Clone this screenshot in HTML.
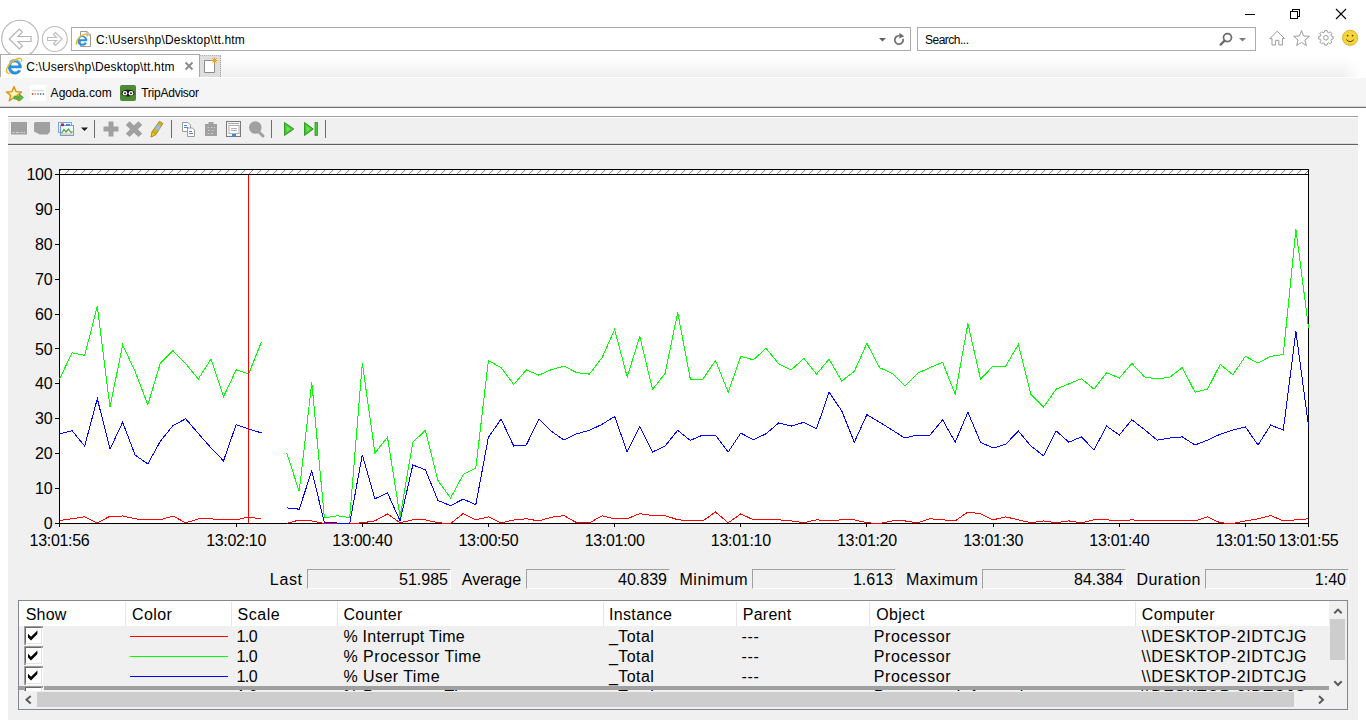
<!DOCTYPE html>
<html>
<head>
<meta charset="utf-8">
<title>C:\Users\hp\Desktop\tt.htm</title>
<style>
html,body{margin:0;padding:0;background:#fff;}
body{width:1366px;height:727px;position:relative;overflow:hidden;font-family:"Liberation Sans",sans-serif;color:#000;}
.abs{position:absolute;}
.ui{position:absolute;font-family:"Liberation Sans",sans-serif;font-size:12px;line-height:14px;color:#000;white-space:nowrap;}
.box{position:absolute;border:1px solid #ababab;background:#fff;box-sizing:border-box;}
.lbl{position:absolute;font-size:16px;line-height:19px;white-space:nowrap;color:#000;}
.xl{width:80px;text-align:center;letter-spacing:-0.3px;}
.yl{letter-spacing:-0.35px;}
.val{position:absolute;box-sizing:border-box;top:569px;height:20px;width:144px;border-top:1px solid #a0a0a0;border-left:1px solid #a0a0a0;border-bottom:1px solid #fff;border-right:1px solid #fff;font-size:16px;line-height:20px;text-align:right;padding-right:2px;}
.hd{position:absolute;top:605px;font-size:16px;line-height:19px;white-space:nowrap;}
.sep{position:absolute;top:602px;width:1px;height:24px;background:#e5e5e5;}
.row{position:absolute;left:19px;width:1310px;height:20px;font-size:16px;line-height:20px;white-space:nowrap;}
.row span{position:absolute;top:1px;}
.cb{position:absolute;left:5px;top:0;width:15px;height:15px;background:#fff;border-top:1px solid #696969;border-left:1px solid #696969;border-right:1px solid #e3e3e3;border-bottom:1px solid #e3e3e3;outline:1px solid transparent;box-shadow:-1px -1px 0 #a0a0a0, 1px 1px 0 #fff, 1px -1px 0 #a0a0a0, -1px 1px 0 #a0a0a0;margin:1px;}
.ln{position:absolute;left:111px;top:10px;width:98px;height:1px;}
.tsep{position:absolute;top:120px;width:1px;height:18px;background:#6d6d6d;}
#hdShow{letter-spacing:0.133px;margin-left:-0.2px;}
#hdColor{letter-spacing:0.4px;margin-left:0.0px;}
#hdScale{letter-spacing:0.55px;margin-left:-0.6px;}
#hdCounter{letter-spacing:0.334px;margin-left:-0.6px;}
#hdInstance{letter-spacing:0.343px;margin-left:-1.0px;}
#hdParent{letter-spacing:0.24px;margin-left:-0.2px;}
#hdObject{letter-spacing:0.4px;margin-left:0.2px;}
#hdComputer{letter-spacing:0.342px;margin-left:-0.2px;}
.one{letter-spacing:-0.5px;margin-left:-0.6px;}
#r1c{letter-spacing:0.266px;margin-left:0.4px;}
.r2c{letter-spacing:0.52px;margin-left:0.4px;}
#r3c{letter-spacing:0.46px;margin-left:0.4px;}
.tot{letter-spacing:0.44px;margin-left:1.0px;}
.dash{letter-spacing:0.7px;margin-left:0.4px;}
.proc{letter-spacing:0.599px;margin-left:-0.2px;}
.comp{letter-spacing:0.5px;margin-left:1.4px;}
#stLast{letter-spacing:0.667px;margin-left:-0.2px;}
#stAverage{letter-spacing:0.0px;margin-left:0.8px;}
#stMinimum{letter-spacing:0.567px;margin-left:-0.6px;}
#stMaximum{letter-spacing:0.4px;margin-left:0.0px;}
#stDuration{letter-spacing:0.514px;margin-left:0.4px;}
#addr{letter-spacing:0.192px;margin-left:0.0px;}
#tabt{letter-spacing:0.168px;margin-left:0.2px;}
#fav1{letter-spacing:0.051px;margin-left:0.6px;}
#fav2{letter-spacing:-0.24px;margin-left:1.2px;}
#srch{letter-spacing:-0.5px;margin-left:0.0px;}
</style>
</head>
<body>

<!-- ===== browser chrome ===== -->
<div id="chrome" class="abs" style="left:0;top:0;width:1366px;height:108px;background:#fff;">
  <!-- tab row gradient -->
  <div class="abs" style="left:0;top:55px;width:1366px;height:22px;background:linear-gradient(to bottom,#ffffff 0%,#fcfcfc 25%,#efefef 100%);"></div>
  <div class="abs" style="left:1340px;top:55px;width:26px;height:22px;background:linear-gradient(to right,rgba(255,255,255,0) 10%,#fff 85%);"></div>
  <div class="abs" style="left:0;top:77px;width:1366px;height:1px;background:#fff;z-index:1;"></div>
  <!-- favourites bar -->
  <div class="abs" style="left:0;top:77px;width:1366px;height:30px;background:#f5f5f5;"></div>
  <div class="abs" style="left:0;top:106px;width:1366px;height:1px;background:#d6d6d6;"></div>
  <div class="abs" style="left:0;top:107px;width:1366px;height:1px;background:#6e6e6e;"></div>

  <!-- back / forward -->
  <svg class="abs" style="left:0;top:18px;" width="72" height="37" viewBox="0 18 72 37">
    <circle cx="20" cy="38.600" r="18.300" fill="#fff" stroke="#b4b4b4" stroke-width="1.100"/>
    <path d="M9.300,39 L19.300,29 L22.400,32.100 L18,36.500 H31 V41.500 H18 L22.400,45.900 L19.300,49 Z" fill="#fff" stroke="#b4b4b4" stroke-width="1.200" stroke-linejoin="miter"/>
    <circle cx="54.800" cy="39" r="12.500" fill="#fff" stroke="#bcbcbc" stroke-width="1.100"/>
    <path d="M62,39 L55.5,32.5 L53.5,34.5 L56.5,37.5 H47.5 V40.5 H56.5 L53.5,43.5 L55.5,45.5 Z" fill="#fff" stroke="#bebebe" stroke-width="1.150"/>
  </svg>

  <!-- address box -->
  <div class="box" style="left:71px;top:27px;width:840px;height:24px;"></div>
  <!-- page icon in address box -->
  <svg class="abs" style="left:74px;top:29px;" width="20" height="20" viewBox="0 0 20 20">
    <path d="M6.500,2.500 H13 L16.500,6 V17.500 H6.500 Z" fill="#fff" stroke="#9a9a9a" stroke-width="1"/>
    <path d="M13,2.500 V6 H16.500" fill="none" stroke="#9a9a9a" stroke-width="1"/>
    <g transform="translate(1.200,4.200) scale(0.720)">
    <path d="M16.660,11.300 H6.100 A3.900,3.900 0 0 0 13.300,12.700 L16.200,13.800 A7,7 0 1 1 16.700,8.500 Z" fill="#2a8fdd"/>
    <path d="M6.100,8.500 H13.500 A3.750,3.750 0 0 0 6.100,8.500 Z" fill="#fff"/>
    <path d="M2.600,16 C-0.800,13.500 4.500,4.500 12.500,1.700 C15.500,0.700 17.300,1.800 16.300,4.800" fill="none" stroke="#f3b61f" stroke-width="1.700"/>
    </g>
  </svg>
  <div class="ui" id="addr" style="left:96px;top:33px;">C:\Users\hp\Desktop\tt.htm</div>
  <!-- address dropdown + refresh -->
  <svg class="abs" style="left:876px;top:30px;" width="34" height="18" viewBox="0 0 34 18">
    <path d="M3,8 H10 L6.5,11.5 Z" fill="#5f5f5f"/>
    <path d="M23.600,5.800 A4.200,4.200 0 1 0 27,8.800" fill="none" stroke="#6e6e6e" stroke-width="1.700"/>
    <path d="M23.400,2.700 L28.200,6.200 L23.400,8.400 Z" fill="#6e6e6e"/>
  </svg>

  <!-- search box -->
  <div class="box" style="left:917px;top:27px;width:339px;height:24px;"></div>
  <div class="ui" id="srch" style="left:925px;top:33px;">Search...</div>
  <svg class="abs" style="left:1216px;top:30px;" width="36" height="18" viewBox="0 0 36 18">
    <circle cx="11.5" cy="7.6" r="4" fill="none" stroke="#6a6a6a" stroke-width="1.7"/>
    <path d="M8.6,10.6 L4.6,14.6" stroke="#6a6a6a" stroke-width="2.2" stroke-linecap="round"/>
    <path d="M23,8 H30 L26.5,11.5 Z" fill="#7a7a7a"/>
  </svg>

  <!-- window controls -->
  <svg class="abs" style="left:1240px;top:4px;" width="120" height="20" viewBox="1240 4 120 20" shape-rendering="crispEdges">
    <path d="M1245,14.5 H1255" stroke="#000" stroke-width="1"/>
    <path d="M1290.5,11.5 H1297.5 V18.5 H1290.5 Z" fill="none" stroke="#000" stroke-width="1"/>
    <path d="M1292.5,11 V9.5 H1299.5 V16.5 H1298" fill="none" stroke="#000" stroke-width="1"/>
    <path d="M1336,9 L1346,19 M1346,9 L1336,19" stroke="#000" stroke-width="1.1" shape-rendering="auto"/>
  </svg>

  <!-- home / star / gear / smiley -->
  <svg class="abs" style="left:1266px;top:28px;" width="96" height="20" viewBox="1266 28 96 20">
    <path d="M1269.8,38.6 L1277.2,31.2 L1284.6,38.6 H1282.4 V45 H1278.8 V40.4 H1275.6 V45 H1272 V38.6 Z" fill="#fff" stroke="#9b9b9b" stroke-width="1" stroke-linejoin="round"/>
    <path d="M1301.5,30.6 L1303.6,36 L1309.4,36.3 L1304.9,40 L1306.4,45.6 L1301.5,42.4 L1296.6,45.6 L1298.1,40 L1293.6,36.3 L1299.4,36 Z" fill="#fff" stroke="#9b9b9b" stroke-width="1" stroke-linejoin="round"/>
    <g transform="translate(1325.9,37.8) scale(0.86)" fill="#fff" stroke="#9b9b9b" stroke-width="1.15" stroke-linejoin="round">
      <path d="M-1.4,-7.6 H1.4 L1.9,-5.5 L3.2,-4.9 L5,-6.1 L7,-4.1 L5.8,-2.3 L6.3,-1 L8.4,-0.5 V2.3 L6.3,2.8 L5.8,4.1 L7,5.9 L5,7.9 L3.2,6.7 L1.9,7.3 L1.4,9.4 H-1.4 L-1.9,7.3 L-3.2,6.7 L-5,7.9 L-7,5.9 L-5.8,4.1 L-6.3,2.8 L-8.4,2.3 V-0.5 L-6.3,-1 L-5.8,-2.3 L-7,-4.1 L-5,-6.1 L-3.2,-4.9 L-1.9,-5.5 Z" transform="translate(0,-0.9)"/>
      <circle cx="0" cy="0" r="2.7"/>
    </g>
    <circle cx="1350.1" cy="37.8" r="7.6" fill="#f6d43c" stroke="#d9b52e" stroke-width="1"/>
    <circle cx="1347.6" cy="35.6" r="0.9" fill="#5a4a12"/>
    <circle cx="1352.6" cy="35.6" r="0.9" fill="#5a4a12"/>
    <path d="M1346.3,39.6 Q1350.1,43.6 1353.9,39.6" fill="none" stroke="#5a4a12" stroke-width="1"/>
  </svg>

  <!-- tab -->
  <div class="abs" style="left:0;top:54px;width:1366px;height:1px;background:#fff;"></div>
  <div class="abs" style="left:0;top:54px;width:200px;height:23px;background:#fff;border:1px solid #a9a9a9;border-bottom:none;box-sizing:border-box;"></div>
  <svg class="abs" style="left:5px;top:57px;" width="18" height="18" viewBox="0 0 18 18">
    <path d="M16.660,11.300 H6.100 A3.900,3.900 0 0 0 13.300,12.700 L16.200,13.800 A7,7 0 1 1 16.700,8.500 Z" fill="#2a8fdd"/>
    <path d="M6.100,8.500 H13.500 A3.750,3.750 0 0 0 6.100,8.500 Z" fill="#fff"/>
    <path d="M4.300,5.500 A6.300,6.300 0 0 1 15.200,6" fill="none" stroke="#5ab8f0" stroke-width="1.200"/>
    <path d="M2.600,16 C-0.800,13.500 4.500,4.500 12.500,1.700 C15.500,0.700 17.300,1.800 16.300,4.800" fill="none" stroke="#f3b61f" stroke-width="1.500"/>
    <path d="M2.600,16 C3.300,16.500 4.600,16.200 5.600,15.700" fill="none" stroke="#f3b61f" stroke-width="1.200"/>
  </svg>
  <div class="ui" id="tabt" style="left:26px;top:60px;">C:\Users\hp\Desktop\tt.htm</div>
  <svg class="abs" style="left:184px;top:61px;" width="10" height="10" viewBox="0 0 10 10">
    <path d="M1.5,1.5 L8.5,8.5 M8.5,1.5 L1.5,8.5" stroke="#8a8a8a" stroke-width="1.8"/>
  </svg>
  <!-- new tab button -->
  <div class="abs" style="left:200px;top:55px;width:21px;height:22px;background:#dedede;border-right:1px dotted #a0a0a0;border-top:1px dotted #b0b0b0;box-sizing:border-box;"></div>
  <svg class="abs" style="left:202px;top:57px;" width="18" height="18" viewBox="0 0 18 18">
    <path d="M2.5,3.5 H10.5 L12.5,5.5 V15.5 H2.5 Z" fill="#fff" stroke="#8c8c8c" stroke-width="1"/>
    <path d="M12.5,0.5 V6.5 M9.5,3.5 H15.5 M10.4,1.4 L14.6,5.6 M14.6,1.4 L10.4,5.6" stroke="#f0a020" stroke-width="1"/>
  </svg>

  <!-- favourites -->
  <svg class="abs" style="left:5px;top:85px;" width="20" height="18" viewBox="0 0 20 18">
    <path d="M9,1.5 L11.1,6.6 L16.6,7 L12.4,10.5 L13.8,15.8 L9,12.8 L4.2,15.8 L5.6,10.5 L1.4,7 L6.9,6.6 Z" fill="#fbd970" stroke="#d9921c" stroke-width="1.300" stroke-linejoin="round"/>
    <path d="M9,4.500 L10.200,7.600 L13.400,7.900 L11,9.900 L11.800,13 L9,11.200 L6.200,13 L7,9.900 L4.600,7.900 L7.800,7.600 Z" fill="#fff3c0"/>
    <path d="M9,11 H14.5 V9 L18.5,12.5 L14.5,16 V14 H9 Z" fill="#58b947" stroke="#3e9a33" stroke-width="0.6"/>
  </svg>
  <div class="abs" style="left:30px;top:85px;width:16px;height:16px;background:#fff;"></div>
  <svg class="abs" style="left:30px;top:85px;" width="16" height="16" viewBox="0 0 16 16">
    <rect x="2" y="5.3" width="12" height="0.9" fill="#c8c8c8"/>
    <circle cx="2.6" cy="9" r="0.9" fill="#e0463a"/><circle cx="5.3" cy="9" r="0.9" fill="#f2a23a"/><circle cx="8" cy="9" r="0.9" fill="#58b058"/><circle cx="10.7" cy="9" r="0.9" fill="#9a5fb0"/><circle cx="13.4" cy="9" r="0.9" fill="#4a90d8"/>
  </svg>
  <div class="ui" id="fav1" style="left:50px;top:86px;">Agoda.com</div>
  <svg class="abs" style="left:120px;top:85px;" width="16" height="16" viewBox="0 0 16 16">
    <rect x="0" y="0" width="16" height="16" rx="2" fill="#4c8a36"/>
    <ellipse cx="8" cy="8.2" rx="6.6" ry="3.4" fill="#1c1c1c"/>
    <circle cx="5" cy="8.3" r="2.3" fill="#fff"/><circle cx="11" cy="8.3" r="2.3" fill="#fff"/>
    <circle cx="5" cy="8.3" r="1" fill="#1c1c1c"/><circle cx="11" cy="8.3" r="1" fill="#1c1c1c"/>
  </svg>
  <div class="ui" id="fav2" style="left:140px;top:86px;">TripAdvisor</div>
</div>

<!-- ===== page: System Monitor control ===== -->
<div id="ctl" class="abs" style="left:8px;top:116px;width:1350px;height:604px;background:#f0f0f0;"></div>
<div class="abs" style="left:8px;top:116px;width:1350px;height:1px;background:#a0a0a0;"></div>
<div class="abs" style="left:8px;top:117px;width:1350px;height:1px;background:#fff;"></div>
<div class="abs" style="left:8px;top:143px;width:1350px;height:1px;background:#dcdcdc;"></div>
<div class="abs" style="left:8px;top:144px;width:1350px;height:1px;background:#5e5e5e;"></div>
<div class="abs" style="left:8px;top:145px;width:1350px;height:1px;background:#f8f8f8;"></div>

<!-- toolbar icons -->
<svg class="abs" style="left:8px;top:118px;" width="330" height="24" viewBox="8 118 330 24">
  <!-- 1 new counter set (disabled) -->
  <rect x="11" y="122" width="16" height="12.5" fill="#a0a0a0"/>
  <path d="M12.5,132.5 h2 m1.5,0 h3 m1.5,0 h2 m1,0 h1.5" stroke="#d8d8d8" stroke-width="1"/>
  <!-- 2 clear display (disabled) -->
  <path d="M35.5,122 H50 V132 L47.5,134.5 H40 L34,131.5 V123 Z" fill="#a0a0a0"/>
  <!-- 3 view graph -->
  <rect x="58.5" y="122.5" width="13" height="10" fill="#eaf2fb" stroke="#7aa7e0" stroke-width="1"/>
  <rect x="60.5" y="125.500" width="13" height="10" fill="#f4f8fd" stroke="#6b9fe0" stroke-width="1"/>
  <rect x="61" y="123.500" width="3" height="2.6" fill="#d02020"/>
  <rect x="66" y="124" width="4" height="2" fill="#4a8ad8"/>
  <path d="M61.500,133.500 L64,129.500 L66,132 L68.500,129 L71,132.500 L72.500,131.500" fill="none" stroke="#4aa040" stroke-width="1.2"/>
  <path d="M61.500,134 L72.500,134" stroke="#e0a040" stroke-width="0.8"/>
  <path d="M81,127.500 H88 L84.500,131 Z" fill="#1a1a1a"/>
  <!-- plus -->
  <path d="M108.500,121.500 H113.500 V126.500 H118.500 V131.500 H113.500 V136.500 H108.500 V131.500 H103.500 V126.500 H108.500 Z" fill="#a0a0a0"/>
  <!-- X -->
  <path d="M129.500,121.300 L134,125.500 L138.500,121.300 L142.200,125 L137.800,129.200 L142.200,133.400 L138.500,137 L134,132.800 L129.500,137 L125.800,133.400 L130.200,129.200 L125.800,125 Z" fill="#a0a0a0"/>
  <!-- pencil / highlighter -->
  <path d="M159.500,121.300 L162.800,123.500 L156,134.500 L151,137 L152.200,131.500 Z" fill="#d8b020" stroke="#8a7a30" stroke-width="0.8"/>
  <path d="M157.600,124.500 L160.800,126.600 L158.300,130.600 L155.200,128.500 Z" fill="#8fc0e8"/>
  <path d="M152.200,131.500 L156,134.500 L151,137 Z" fill="#f0d000" stroke="#a08010" stroke-width="0.6"/>
  <!-- copy -->
  <path d="M182.500,122.500 H188 L190.500,125 V131.500 H182.500 Z" fill="#fff" stroke="#9a9a9a" stroke-width="1"/>
  <path d="M187.500,128 H192.500 L194.500,130 V136.500 H187.500 Z" fill="#fff" stroke="#9a9a9a" stroke-width="1"/>
  <path d="M184,125.500 h3 M184,127.500 h4 M189,131.500 h3 M189,133.500 h4" stroke="#4a8ad8" stroke-width="1"/>
  <!-- paste (disabled) -->
  <path d="M205,124 H208.500 V122 H213.500 V124 H217 V136 H205 Z" fill="#a0a0a0"/>
  <path d="M207.500,127.500 h1.500 m2,0 h1.500 m1.500,0 h1 M208,130.500 h1.500 m2.500,0 h1.500 M207.500,133.500 h1.500 m2,0 h2" stroke="#d0d0d0" stroke-width="1"/>
  <!-- properties -->
  <rect x="226.500" y="121.500" width="14" height="15" fill="#f4f4f4" stroke="#7a7a7a" stroke-width="1"/>
  <rect x="229" y="125.500" width="10" height="8" fill="#fff" stroke="#a0a0a0" stroke-width="0.8"/>
  <path d="M228,123.500 h11 M231,128.500 h6 M231,130.500 h6" stroke="#9a9a9a" stroke-width="0.8"/>
  <rect x="232" y="134" width="4" height="2.500" fill="#3a8ae0"/>
  <!-- zoom (disabled) -->
  <circle cx="255.300" cy="127.500" r="6.300" fill="#a0a0a0"/>
  <path d="M258.500,131.500 L263,136" stroke="#a0a0a0" stroke-width="3" stroke-linecap="round"/>
  <!-- play -->
  <path d="M284.500,122.500 L293.800,129 L284.500,135.500 Z" fill="#46c832" stroke="#2f9a24" stroke-width="1" stroke-linejoin="round"/>
  <path d="M286.500,126 L290.500,129 L286.500,132 Z" fill="#6ee05a"/>
  <!-- step -->
  <path d="M304.500,122.500 L313.300,129 L304.500,135.500 Z" fill="#46c832" stroke="#2f9a24" stroke-width="1" stroke-linejoin="round"/>
  <path d="M306.500,126 L310.300,129 L306.500,132 Z" fill="#6ee05a"/>
  <rect x="315" y="122.500" width="2.500" height="13" fill="#46c832" stroke="#2f9a24" stroke-width="0.8"/>
</svg>
<div class="tsep" style="left:94px;"></div>
<div class="tsep" style="left:171px;"></div>
<div class="tsep" style="left:271px;"></div>
<div class="tsep" style="left:325px;"></div>

<!-- chart -->
<svg class="abs" style="left:0;top:0;" width="1366" height="727" viewBox="0 0 1366 727" shape-rendering="crispEdges">
<defs><pattern id="hatch" x="59" y="170" width="8" height="8" patternUnits="userSpaceOnUse"><path d="M-1,3 L3,-1 M1,9 L9,1" stroke="#7a7a7a" stroke-width="1" fill="none" shape-rendering="auto"/></pattern></defs>
<rect x="59" y="169" width="1250" height="355" fill="#fff"/>
<rect x="60" y="170" width="1248" height="4" fill="url(#hatch)"/>
<path d="M59.5,169 V524 M59,169.5 H1309 M1308.5,169 V524 M59,174.5 H1309 M59,523.5 H1309" stroke="#000" stroke-width="1" fill="none"/>
<path d="M55,523.5 H59" stroke="#000" stroke-width="1"/>
<path d="M55,488.5 H59" stroke="#000" stroke-width="1"/>
<path d="M55,453.5 H59" stroke="#000" stroke-width="1"/>
<path d="M55,418.5 H59" stroke="#000" stroke-width="1"/>
<path d="M55,383.5 H59" stroke="#000" stroke-width="1"/>
<path d="M55,348.5 H59" stroke="#000" stroke-width="1"/>
<path d="M55,314.5 H59" stroke="#000" stroke-width="1"/>
<path d="M55,279.5 H59" stroke="#000" stroke-width="1"/>
<path d="M55,244.5 H59" stroke="#000" stroke-width="1"/>
<path d="M55,209.5 H59" stroke="#000" stroke-width="1"/>
<path d="M55,174.5 H59" stroke="#000" stroke-width="1"/>
<path d="M59.5,524 V527" stroke="#000" stroke-width="1"/>
<path d="M236.5,524 V527" stroke="#000" stroke-width="1"/>
<path d="M362.5,524 V527" stroke="#000" stroke-width="1"/>
<path d="M488.5,524 V527" stroke="#000" stroke-width="1"/>
<path d="M614.5,524 V527" stroke="#000" stroke-width="1"/>
<path d="M740.5,524 V527" stroke="#000" stroke-width="1"/>
<path d="M866.5,524 V527" stroke="#000" stroke-width="1"/>
<path d="M993.5,524 V527" stroke="#000" stroke-width="1"/>
<path d="M1119.5,524 V527" stroke="#000" stroke-width="1"/>
<path d="M1245.5,524 V527" stroke="#000" stroke-width="1"/>
<path d="M1308.5,524 V527" stroke="#000" stroke-width="1"/>
<polyline points="59.5,520.4 72.1,518.8 84.7,516.7 97.3,523.0 110.0,516.2 122.6,516.0 135.2,518.8 147.8,520.0 160.4,519.8 173.0,516.0 185.7,522.8 198.3,519.0 210.9,518.8 223.5,520.0 236.1,519.8 248.7,516.9 261.4,519.0" fill="none" stroke="#ff0000" stroke-width="1"/>
<polyline points="286.6,523.5 299.2,520.0 311.8,520.9 324.4,523.5 337.1,523.5 349.7,523.5 362.3,522.8 374.9,520.9 387.5,513.9 400.1,522.8 412.8,519.8 425.4,519.8 438.0,522.8 450.6,523.5 463.2,513.6 475.8,519.8 488.4,516.9 501.1,522.8 513.7,520.0 526.3,518.8 538.9,520.9 551.5,517.2 564.1,515.6 576.8,522.8 589.4,522.8 602.0,515.8 614.6,518.8 627.2,518.8 639.8,513.6 652.5,515.6 665.1,515.6 677.7,519.7 690.3,520.9 702.9,520.9 715.5,512.0 728.2,522.8 740.8,513.9 753.4,519.8 766.0,519.8 778.6,519.8 791.2,520.9 803.9,522.8 816.5,519.8 829.1,520.9 841.7,519.8 854.3,519.8 866.9,522.8 879.6,523.5 892.2,520.9 904.8,520.9 917.4,522.8 930.0,518.8 942.6,519.8 955.2,520.9 967.9,512.0 980.5,513.9 993.1,519.8 1005.7,516.9 1018.3,519.8 1030.9,522.8 1043.6,520.9 1056.2,522.8 1068.8,520.9 1081.4,522.8 1094.0,519.8 1106.6,519.8 1119.3,520.9 1131.9,519.8 1144.5,520.9 1157.1,520.9 1169.7,520.9 1182.3,520.9 1195.0,520.9 1207.6,516.9 1220.2,522.8 1232.8,523.5 1245.4,520.9 1258.0,518.8 1270.7,515.6 1283.3,520.9 1295.9,519.8 1308.5,518.8" fill="none" stroke="#ff0000" stroke-width="1"/>
<polyline points="59.5,379.0 72.1,352.8 84.7,355.3 97.3,306.4 110.0,407.3 122.6,344.8 135.2,371.7 147.8,404.8 160.4,363.0 173.0,350.7 185.7,363.7 198.3,379.0 210.9,359.1 223.5,396.8 236.1,369.9 248.7,373.8 261.4,342.1" fill="none" stroke="#00ff00" stroke-width="1"/>
<polyline points="286.6,452.7 299.2,491.4 311.8,382.5 324.4,517.9 337.1,515.8 349.7,517.6 362.3,363.0 374.9,453.0 387.5,437.3 400.1,516.9 412.8,442.2 425.4,430.3 438.0,480.6 450.6,498.0 463.2,474.6 475.8,468.0 488.4,360.5 501.1,367.7 513.7,384.6 526.3,369.9 538.9,375.2 551.5,369.6 564.1,366.1 576.8,372.7 589.4,374.1 602.0,357.7 614.6,329.5 627.2,376.9 639.8,336.4 652.5,389.5 665.1,373.4 677.7,312.4 690.3,379.0 702.9,379.0 715.5,360.5 728.2,392.3 740.8,356.3 753.4,359.8 766.0,348.3 778.6,363.7 791.2,369.9 803.9,358.4 816.5,374.1 829.1,359.1 841.7,381.1 854.3,371.3 866.9,343.4 879.6,367.7 892.2,373.4 904.8,386.0 917.4,373.4 930.0,367.5 942.6,362.3 955.2,394.4 967.9,323.5 980.5,379.0 993.1,366.1 1005.7,366.1 1018.3,344.5 1030.9,394.4 1043.6,406.9 1056.2,389.1 1068.8,383.9 1081.4,378.7 1094.0,389.1 1106.6,372.7 1119.3,378.0 1131.9,363.5 1144.5,376.9 1157.1,379.0 1169.7,377.3 1182.3,367.5 1195.0,392.3 1207.6,389.1 1220.2,364.4 1232.8,374.8 1245.4,356.3 1258.0,363.0 1270.7,356.3 1283.3,354.6 1295.9,229.0 1308.5,327.7" fill="none" stroke="#00ff00" stroke-width="1"/>
<polyline points="59.5,434.0 72.1,430.8 84.7,446.0 97.3,398.7 110.0,449.2 122.6,422.3 135.2,455.1 147.8,464.0 160.4,441.1 173.0,425.6 185.7,418.8 198.3,433.5 210.9,447.8 223.5,460.9 236.1,424.7 248.7,428.9 261.4,432.9" fill="none" stroke="#0000ff" stroke-width="1"/>
<polyline points="286.6,507.8 299.2,509.2 311.8,470.8 324.4,522.8 337.1,523.0 349.7,523.5 362.3,454.7 374.9,498.7 387.5,493.0 400.1,520.9 412.8,465.0 425.4,469.8 438.0,500.5 450.6,505.7 463.2,499.1 475.8,504.7 488.4,437.3 501.1,419.1 513.7,446.0 526.3,445.0 538.9,419.1 551.5,431.4 564.1,440.1 576.8,433.8 589.4,430.3 602.0,424.4 614.6,416.4 627.2,452.0 639.8,426.5 652.5,452.0 665.1,446.0 677.7,430.3 690.3,440.4 702.9,435.0 715.5,435.0 728.2,452.0 740.8,433.1 753.4,439.7 766.0,433.8 778.6,423.0 791.2,426.1 803.9,422.3 816.5,428.7 829.1,392.3 841.7,410.8 854.3,442.2 866.9,414.6 879.6,422.3 892.2,430.0 904.8,438.0 917.4,435.0 930.0,435.0 942.6,419.8 955.2,442.2 967.9,412.2 980.5,442.2 993.1,448.1 1005.7,444.3 1018.3,431.0 1030.9,446.0 1043.6,455.8 1056.2,431.0 1068.8,442.2 1081.4,436.9 1094.0,449.9 1106.6,426.1 1119.3,435.0 1131.9,419.8 1144.5,429.6 1157.1,440.1 1169.7,438.0 1182.3,436.9 1195.0,445.0 1207.6,440.1 1220.2,434.2 1232.8,430.0 1245.4,426.8 1258.0,445.0 1270.7,425.1 1283.3,430.0 1295.9,331.5 1308.5,425.8" fill="none" stroke="#0000ff" stroke-width="1"/>
<path d="M248.5,175 V523" stroke="#ff0000" stroke-width="1"/>
</svg>
<div class="lbl yl" style="right:1313.8px;top:514.0px;">0</div>
<div class="lbl yl" style="right:1313.8px;top:479.1px;">10</div>
<div class="lbl yl" style="right:1313.8px;top:444.2px;">20</div>
<div class="lbl yl" style="right:1313.8px;top:409.3px;">30</div>
<div class="lbl yl" style="right:1313.8px;top:374.4px;">40</div>
<div class="lbl yl" style="right:1313.8px;top:339.5px;">50</div>
<div class="lbl yl" style="right:1313.8px;top:304.6px;">60</div>
<div class="lbl yl" style="right:1313.8px;top:269.7px;">70</div>
<div class="lbl yl" style="right:1313.8px;top:234.8px;">80</div>
<div class="lbl yl" style="right:1313.8px;top:199.9px;">90</div>
<div class="lbl yl" style="right:1313.8px;top:165.0px;">100</div>
<div class="lbl xl" style="left:19.5px;top:531px;">13:01:56</div>
<div class="lbl xl" style="left:196.1px;top:531px;">13:02:10</div>
<div class="lbl xl" style="left:322.3px;top:531px;">13:00:40</div>
<div class="lbl xl" style="left:448.4px;top:531px;">13:00:50</div>
<div class="lbl xl" style="left:574.6px;top:531px;">13:01:00</div>
<div class="lbl xl" style="left:700.8px;top:531px;">13:01:10</div>
<div class="lbl xl" style="left:826.9px;top:531px;">13:01:20</div>
<div class="lbl xl" style="left:953.1px;top:531px;">13:01:30</div>
<div class="lbl xl" style="left:1079.3px;top:531px;">13:01:40</div>
<div class="lbl xl" style="left:1205.4px;top:531px;">13:01:50</div>
<div class="lbl xl" style="left:1268.5px;top:531px;">13:01:55</div>

<!-- stats row -->
<div class="lbl" style="left:270px;top:570px;" id="stLast">Last</div>
<div class="val" style="left:307px;">51.985</div>
<div class="lbl" style="left:461px;top:570px;" id="stAverage">Average</div>
<div class="val" style="left:526px;">40.839</div>
<div class="lbl" style="left:680px;top:570px;" id="stMinimum">Minimum</div>
<div class="val" style="left:752px;">1.613</div>
<div class="lbl" style="left:906px;top:570px;" id="stMaximum">Maximum</div>
<div class="val" style="left:982px;">84.384</div>
<div class="lbl" style="left:1136px;top:570px;" id="stDuration">Duration</div>
<div class="val" style="left:1205px;">1:40</div>

<!-- legend list -->
<div class="abs" style="left:18px;top:600px;width:1330px;height:110px;border:1px solid #828790;box-sizing:border-box;background:#f0f0f0;"></div>
<div class="abs" style="left:19px;top:601px;width:1310px;height:25px;background:#fff;"></div>
<div class="hd" style="left:26px;" id="hdShow">Show</div>
<div class="hd" style="left:132px;" id="hdColor">Color</div>
<div class="hd" style="left:238px;" id="hdScale">Scale</div>
<div class="hd" style="left:344px;" id="hdCounter">Counter</div>
<div class="hd" style="left:610px;" id="hdInstance">Instance</div>
<div class="hd" style="left:743px;" id="hdParent">Parent</div>
<div class="hd" style="left:876px;" id="hdObject">Object</div>
<div class="hd" style="left:1142px;" id="hdComputer">Computer</div>
<div class="sep" style="left:125px;"></div>
<div class="sep" style="left:231px;"></div>
<div class="sep" style="left:337px;"></div>
<div class="sep" style="left:603px;"></div>
<div class="sep" style="left:736px;"></div>
<div class="sep" style="left:869px;"></div>
<div class="sep" style="left:1135px;"></div>

<div class="row" style="top:626px;">
  <div class="cb"><svg width="15" height="15" viewBox="0 0 15 15" style="display:block"><path d="M2,5.800 L5,8.800 L11.400,2.400 V6 L5,12.400 L2,9.400 Z" fill="#000"/></svg></div>
  <div class="ln" style="background:#ff0000;"></div>
  <span class="one" style="left:218px;">1.0</span><span id="r1c" style="left:324px;">% Interrupt Time</span><span class="tot" style="left:589px;">_Total</span><span class="dash" style="left:722px;">---</span><span class="proc" style="left:855px;">Processor</span><span class="comp" style="left:1121px;">\\DESKTOP-2IDTCJG</span>
</div>
<div class="row" style="top:646px;">
  <div class="cb"><svg width="15" height="15" viewBox="0 0 15 15" style="display:block"><path d="M2,5.800 L5,8.800 L11.400,2.400 V6 L5,12.400 L2,9.400 Z" fill="#000"/></svg></div>
  <div class="ln" style="background:#00ff00;"></div>
  <span class="one" style="left:218px;">1.0</span><span class="r2c" style="left:324px;">% Processor Time</span><span class="tot" style="left:589px;">_Total</span><span class="dash" style="left:722px;">---</span><span class="proc" style="left:855px;">Processor</span><span class="comp" style="left:1121px;">\\DESKTOP-2IDTCJG</span>
</div>
<div class="row" style="top:666px;">
  <div class="cb"><svg width="15" height="15" viewBox="0 0 15 15" style="display:block"><path d="M2,5.800 L5,8.800 L11.400,2.400 V6 L5,12.400 L2,9.400 Z" fill="#000"/></svg></div>
  <div class="ln" style="background:#0000ff;"></div>
  <span class="one" style="left:218px;">1.0</span><span id="r3c" style="left:324px;">% User Time</span><span class="tot" style="left:589px;">_Total</span><span class="dash" style="left:722px;">---</span><span class="proc" style="left:855px;">Processor</span><span class="comp" style="left:1121px;">\\DESKTOP-2IDTCJG</span>
</div>
<!-- partially visible 4th (selected) row -->
<div class="abs" style="left:19px;top:686px;width:1310px;height:5px;overflow:hidden;background:#f0f0f0;">
  <div class="row" style="left:0;top:0;">
    <div class="cb"></div>
    <span class="one" style="left:218px;">1.0</span><span class="r2c" style="left:324px;">% Processor Time</span><span class="tot" style="left:589px;">_Total</span><span class="dash" style="left:722px;">---</span><span class="proc" style="left:855px;">Processor Information</span><span class="comp" style="left:1121px;">\\DESKTOP-2IDTCJG</span>
  </div>
</div>
<div class="abs" style="left:19px;top:686px;width:5px;height:4px;background:#a0a0a0;"></div>
<div class="abs" style="left:44px;top:686px;width:1285px;height:4px;background:#a0a0a0;"></div>
<!-- vertical scrollbar -->
<div class="abs" style="left:1329px;top:601px;width:18px;height:108px;background:#f0f0f0;"></div>
<div class="abs" style="left:1330px;top:619px;width:15px;height:41px;background:#cdcdcd;"></div>
<svg class="abs" style="left:1329px;top:601px;" width="18" height="91" viewBox="0 0 18 91">
  <path d="M5.300,12.300 L9,8.600 L12.700,12.300" fill="none" stroke="#5a5a5a" stroke-width="2"/>
  <path d="M5.300,80.300 L9,84 L12.700,80.300" fill="none" stroke="#5a5a5a" stroke-width="2"/>
</svg>
<!-- horizontal scrollbar -->
<div class="abs" style="left:19px;top:691px;width:1310px;height:18px;background:#f0f0f0;"></div>
<div class="abs" style="left:37px;top:692px;width:1257px;height:15px;background:#cdcdcd;"></div>
<svg class="abs" style="left:19px;top:691px;" width="1310" height="18" viewBox="0 0 1310 18">
  <path d="M11.700,5 L7.500,8.700 L11.700,12.400" fill="none" stroke="#5a5a5a" stroke-width="2"/>
  <path d="M1300,5 L1304,8.700 L1300,12.400" fill="none" stroke="#5a5a5a" stroke-width="2"/>
</svg>

</body>
</html>
